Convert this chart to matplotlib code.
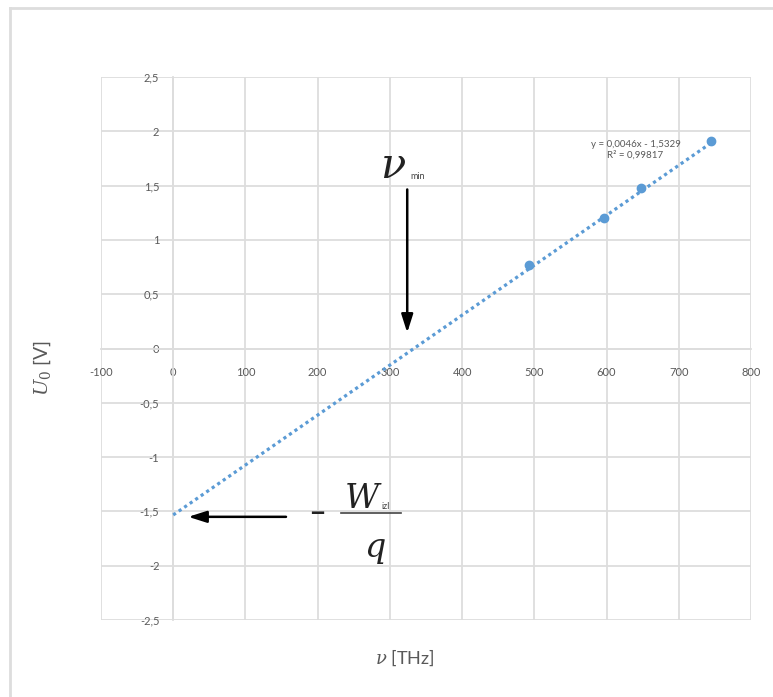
import matplotlib
matplotlib.use("Agg")
from matplotlib import pyplot as plt
from matplotlib.ticker import FuncFormatter, MultipleLocator
from matplotlib.lines import Line2D
import numpy as np

# measured data (frequency in THz, stopping voltage in V)
freq = [493, 596, 648, 744]
napon = [0.77, 1.20, 1.48, 1.91]

# trendline reported by the spreadsheet
nagib = 0.0046
odsjecak = -1.5329
trend_x = [0, 745]

jednadzba = "y = 0,0046x - 1,5329"
r2_tekst = "R² = 0,99817"

plava = "#5B9BD5"
siva = "#595959"
mreza = "#DDDDDD"

plt.rcParams['font.family'] = ['Lato', 'DejaVu Sans']
plt.rcParams['mathtext.fontset'] = 'dejavuserif'

fig = plt.figure(figsize=(7.73, 6.97), dpi=100)
ax = fig.add_axes([101 / 773, 1 - 620 / 697, 650 / 773, 543 / 697])

# outer chart frame (left and top edges visible)
fig.add_artist(Line2D([9.5 / 773, 9.5 / 773], [0, 1 - 8 / 697], transform=fig.transFigure,
                      color=mreza, lw=2))
fig.add_artist(Line2D([9.5 / 773, 1.01], [1 - 8 / 697, 1 - 8 / 697], transform=fig.transFigure,
                      color=mreza, lw=2))

ax.set_xlim(-100, 800)
ax.set_ylim(-2.5, 2.5)
ax.xaxis.set_major_locator(MultipleLocator(100))
ax.yaxis.set_major_locator(MultipleLocator(0.5))
zarez = FuncFormatter(lambda v, p: f"{v:g}".replace('.', ','))
ax.xaxis.set_major_formatter(zarez)
ax.yaxis.set_major_formatter(zarez)
ax.grid(True, color=mreza, lw=1.3)
ax.set_axisbelow(True)

for s in ['top', 'right']:
    ax.spines[s].set_visible(False)
for s in ['left', 'bottom']:
    ax.spines[s].set_position(('data', 0))
    ax.spines[s].set_color(mreza)
    ax.spines[s].set_linewidth(1.3)
ax.tick_params(length=0, labelsize=8, colors=siva)
ax.tick_params(axis='x', pad=13)
ax.tick_params(axis='y', pad=10)

tx = np.array(trend_x)
ax.plot(tx, nagib * tx + odsjecak, ls=(0, (1, 1.1)), color=plava, lw=2.3, zorder=3)
ax.plot(freq, napon, 'o', color=plava, ms=6, zorder=4)

ax.text(640, 1.83, jednadzba + "\n" + r2_tekst, ha='center', va='center',
        fontsize=7, color=siva, linespacing=1.3)

# nu_min annotation
ax.text(286, 1.57, r"$\nu$", fontsize=30, ha='left', va='baseline', color='#222222')
ax.text(328, 1.56, "min", fontsize=6.5, ha='left', va='baseline', color='#444444')
ax.annotate("", xy=(324, 0.12), xytext=(324, 1.49),
            arrowprops=dict(arrowstyle="-|>,head_length=1.1,head_width=0.35", color='black', lw=1.8))

# -W/q annotation
ax.annotate("", xy=(17, -1.55), xytext=(160, -1.55),
            arrowprops=dict(arrowstyle="-|>,head_length=1.1,head_width=0.35", color='black', lw=1.8))
ax.text(200, -1.52, "−", fontsize=20, ha='center', va='center', color='#222222',
        fontweight='bold')
ax.text(237, -1.47, r"$W$", fontsize=24, ha='left', va='baseline', color='#222222')
ax.text(289, -1.475, "izl", fontsize=6.5, ha='left', va='baseline', color='#444444')
ax.plot([232, 315], [-1.515, -1.515], color='#444444', lw=1.2)
ax.text(264, -1.92, r"$q$", fontsize=24, ha='left', va='baseline', color='#222222')

fig.text(405 / 773, 1 - 658 / 697, r"$\nu$ [THz]", fontsize=13, color=siva, ha='center', va='center')
fig.text(42 / 773, 1 - 368 / 697, r"$U_0$ [V]", fontsize=14, color=siva, ha='center', va='center',
         rotation=90)

fig.savefig("out.png", dpi=100)
